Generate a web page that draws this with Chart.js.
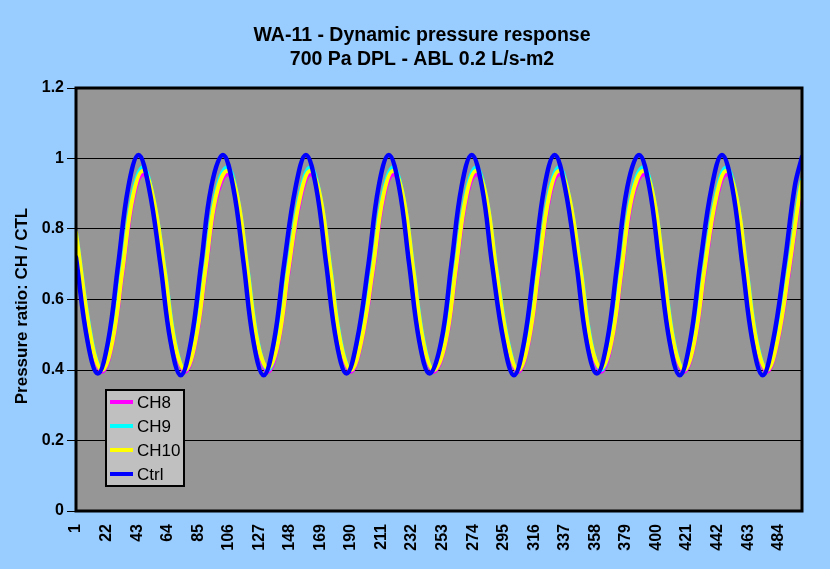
<!DOCTYPE html>
<html>
<head>
<meta charset="utf-8">
<title>WA-11 - Dynamic pressure response</title>
<script src="https://cdn.jsdelivr.net/npm/chart.js@4.4.1/dist/chart.umd.min.js"></script>
<style>
  html, body { margin: 0; padding: 0; background: #99ccff; }
  #wrap { width: 830px; height: 569px; }
</style>
</head>
<body>
<div id="wrap"><canvas id="pressureChart" width="830" height="569"></canvas></div>
<script>
const ctrlSamples = [1, 9,
  16, 23, 30, 37, 44, 51, 59, 66,
  73, 80, 87, 94, 102, 109, 116, 123,
  130, 137, 144, 152, 159, 166, 173, 180,
  187, 194, 202, 209, 216, 223, 230, 237,
  244, 252, 259, 266, 273, 280, 287, 295,
  302, 309, 316, 323, 330, 337, 345, 352,
  359, 366, 373, 380, 388, 395, 402, 409,
  416, 423, 430, 438, 445, 452, 459, 466,
  473, 480, 488, 495, 500];
const chSamples = [1, 12,
  19, 26, 33, 40, 47, 54, 62, 69,
  76, 83, 90, 97, 105, 112, 119, 126,
  133, 140, 147, 155, 162, 169, 176, 183,
  190, 197, 205, 212, 219, 226, 233, 240,
  247, 255, 262, 269, 276, 283, 290, 298,
  305, 312, 319, 326, 333, 340, 348, 355,
  362, 369, 376, 383, 391, 398, 405, 412,
  419, 426, 433, 441, 448, 455, 462, 469,
  476, 483, 491, 498, 500];

const ch8 = [0.785, 0.47,
  0.395, 0.475, 0.675, 0.88, 0.955, 0.885, 0.675, 0.47,
  0.395, 0.475, 0.675, 0.88, 0.955, 0.885, 0.675, 0.47,
  0.395, 0.475, 0.675, 0.88, 0.955, 0.885, 0.675, 0.47,
  0.395, 0.475, 0.675, 0.88, 0.955, 0.885, 0.675, 0.47,
  0.395, 0.475, 0.675, 0.88, 0.955, 0.885, 0.675, 0.47,
  0.395, 0.475, 0.675, 0.88, 0.955, 0.885, 0.675, 0.47,
  0.395, 0.475, 0.675, 0.88, 0.955, 0.885, 0.675, 0.47,
  0.395, 0.475, 0.675, 0.88, 0.955, 0.885, 0.675, 0.47,
  0.395, 0.475, 0.675, 0.88, 0.925];
const ch9 = [0.79, 0.48,
  0.40, 0.49, 0.695, 0.90, 0.975, 0.89, 0.685, 0.48,
  0.40, 0.49, 0.695, 0.90, 0.975, 0.89, 0.685, 0.48,
  0.40, 0.49, 0.695, 0.90, 0.975, 0.89, 0.685, 0.48,
  0.40, 0.49, 0.695, 0.90, 0.975, 0.89, 0.685, 0.48,
  0.40, 0.49, 0.695, 0.90, 0.975, 0.89, 0.685, 0.48,
  0.40, 0.49, 0.695, 0.90, 0.975, 0.89, 0.685, 0.48,
  0.40, 0.49, 0.695, 0.90, 0.975, 0.89, 0.685, 0.48,
  0.40, 0.49, 0.695, 0.90, 0.975, 0.89, 0.685, 0.48,
  0.40, 0.49, 0.695, 0.90, 0.94];
const ch10 = [0.79, 0.475,
  0.40, 0.48, 0.685, 0.89, 0.965, 0.89, 0.68, 0.475,
  0.40, 0.48, 0.685, 0.89, 0.965, 0.89, 0.68, 0.475,
  0.405, 0.48, 0.685, 0.89, 0.965, 0.89, 0.68, 0.475,
  0.40, 0.48, 0.685, 0.89, 0.965, 0.89, 0.68, 0.475,
  0.40, 0.48, 0.685, 0.89, 0.965, 0.89, 0.68, 0.475,
  0.40, 0.48, 0.685, 0.89, 0.965, 0.89, 0.68, 0.475,
  0.405, 0.48, 0.685, 0.89, 0.965, 0.89, 0.68, 0.475,
  0.40, 0.48, 0.685, 0.89, 0.965, 0.89, 0.68, 0.475,
  0.40, 0.48, 0.685, 0.89, 0.935];
const ctrl = [0.72, 0.48,
  0.39, 0.48, 0.70, 0.92, 1.01, 0.92, 0.70, 0.48,
  0.385, 0.48, 0.70, 0.92, 1.01, 0.92, 0.71, 0.48,
  0.385, 0.48, 0.70, 0.92, 1.01, 0.92, 0.70, 0.48,
  0.39, 0.48, 0.70, 0.92, 1.01, 0.92, 0.70, 0.48,
  0.39, 0.48, 0.70, 0.92, 1.01, 0.92, 0.70, 0.48,
  0.385, 0.48, 0.70, 0.92, 1.01, 0.92, 0.70, 0.48,
  0.39, 0.48, 0.70, 0.92, 1.01, 0.92, 0.70, 0.48,
  0.385, 0.48, 0.70, 0.92, 1.01, 0.92, 0.70, 0.48,
  0.385, 0.48, 0.70, 0.92, 1.005];

const xTickLabels = [1, 22, 43, 64, 85, 106, 127, 148, 169, 190, 211, 232,
  253, 274, 295, 316, 337, 358, 379, 400, 421, 442, 463, 484];
const yTickLabels = [0, 0.2, 0.4, 0.6, 0.8, 1, 1.2];

const titleLines = ['WA-11 - Dynamic pressure response', '700 Pa DPL - ABL 0.2 L/s-m2'];
const yTitle = 'Pressure ratio: CH / CTL';
const FONT = 'Arial, "Liberation Sans", sans-serif';

function points(xs, ys) {
  return xs.map((x, i) => ({ x: x, y: ys[i] }));
}

// background, grey plot area, heavy frame, titles and the boxed legend
const plotExtras = {
  id: 'plotExtras',
  beforeDraw(chart) {
    const { ctx, chartArea: a } = chart;
    ctx.save();
    ctx.fillStyle = '#99ccff';
    ctx.fillRect(0, 0, chart.width, chart.height);
    ctx.fillStyle = '#969696';
    ctx.fillRect(a.left, a.top, a.right - a.left, a.bottom - a.top);
    ctx.restore();
  },
  afterDraw(chart) {
    const { ctx, chartArea: a } = chart;
    ctx.save();
    ctx.strokeStyle = '#000';
    ctx.lineWidth = 3;
    ctx.strokeRect(a.left, a.top, a.right - a.left, a.bottom - a.top);

    // chart title
    ctx.fillStyle = '#000';
    ctx.font = 'bold 19.5px ' + FONT;
    ctx.textAlign = 'center';
    ctx.textBaseline = 'middle';
    ctx.fillText(titleLines[0], 422, 36);
    ctx.fillText(titleLines[1], 422, 60);

    // y axis title
    ctx.font = 'bold 17px ' + FONT;
    ctx.translate(22, 306);
    ctx.rotate(-Math.PI / 2);
    ctx.fillText(yTitle, 0, 0);
    ctx.restore();

    // legend box
    ctx.save();
    ctx.fillStyle = '#c0c0c0';
    ctx.fillRect(106, 390, 78, 96);
    ctx.strokeStyle = '#000';
    ctx.lineWidth = 2;
    ctx.strokeRect(106, 390, 78, 96);
    ctx.font = '17px ' + FONT;
    ctx.textAlign = 'left';
    ctx.textBaseline = 'middle';
    chart.data.datasets.forEach((ds, i) => {
      const y = 402 + i * 24;
      ctx.strokeStyle = ds.borderColor;
      ctx.lineWidth = 4;
      ctx.beginPath();
      ctx.moveTo(110, y);
      ctx.lineTo(133, y);
      ctx.stroke();
      ctx.fillStyle = '#000';
      ctx.fillText(ds.label, 137, y + 1);
    });
    ctx.restore();
  }
};

const ctx = document.getElementById('pressureChart').getContext('2d');
new Chart(ctx, {
  type: 'line',
  data: {
    datasets: [
      { label: 'CH8', data: points(chSamples, ch8), borderColor: '#ff00ff', borderWidth: 4, order: 3 },
      { label: 'CH9', data: points(chSamples, ch9), borderColor: '#00ffff', borderWidth: 4, order: 2 },
      { label: 'CH10', data: points(chSamples, ch10), borderColor: '#ffff00', borderWidth: 4, order: 1 },
      { label: 'Ctrl', data: points(ctrlSamples, ctrl), borderColor: '#0000ff', borderWidth: 4.5, order: 0 }
    ]
  },
  options: {
    responsive: false,
    animation: false,
    devicePixelRatio: 1,
    layout: { padding: { left: 0, right: 28, top: 88, bottom: 0 } },
    elements: {
      point: { radius: 0 },
      line: { tension: 0.4, fill: false, borderJoinStyle: 'round', borderCapStyle: 'round' }
    },
    plugins: {
      legend: { display: false },
      tooltip: { enabled: false },
      title: { display: false }
    },
    scales: {
      x: {
        type: 'linear',
        min: 1,
        max: 500,
        grid: { display: false, drawTicks: false },
        border: { display: false },
        afterBuildTicks: (scale) => { scale.ticks = xTickLabels.map(v => ({ value: v })); },
        afterFit: (scale) => { scale.height = 58; },
        ticks: {
          autoSkip: false,
          minRotation: 90,
          maxRotation: 90,
          padding: 13,
          color: '#000',
          font: { family: FONT, size: 16, weight: 'bold' },
          callback: (v) => String(v)
        }
      },
      y: {
        min: 0,
        max: 1.2,
        grid: { color: '#000', lineWidth: 1, tickLength: 9, drawTicks: true },
        border: { display: false },
        afterBuildTicks: (scale) => { scale.ticks = yTickLabels.map(v => ({ value: v })); },
        afterFit: (scale) => { scale.width = 76; },
        ticks: {
          padding: 3,
          color: '#000',
          font: { family: FONT, size: 16, weight: 'bold' },
          callback: (v) => String(v)
        }
      }
    }
  },
  plugins: [plotExtras]
});
</script>
</body>
</html>
